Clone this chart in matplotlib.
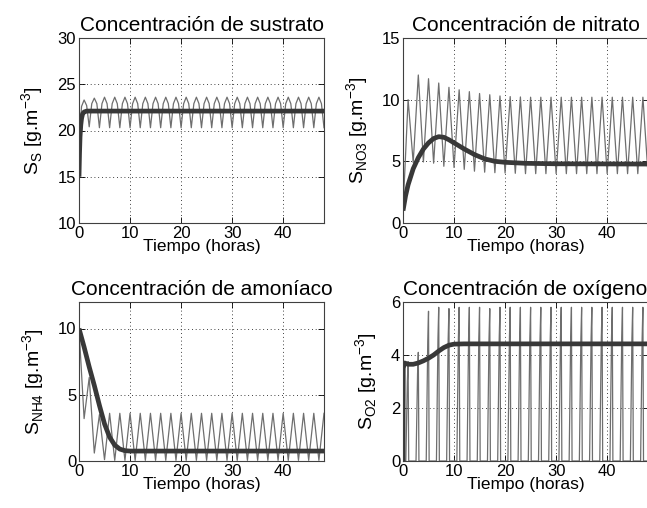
import numpy as np
import matplotlib
matplotlib.use('Agg')
import matplotlib.pyplot as plt

plt.rcParams['font.family'] = ['Liberation Sans', 'DejaVu Sans']
plt.rcParams['mathtext.fontset'] = 'custom'
plt.rcParams['mathtext.rm'] = 'Liberation Sans'
plt.rcParams['font.size'] = 12.5

# ---- data ----
hours = list(range(49))
half_hours = [h / 2 for h in range(1, 97)]

# substrate (sampled every half hour: trough, shoulder, peak, shoulder)
ss_avg_t = [0, 0.1, 0.2, 0.35, 0.5, 0.7, 1.0, 1.5, 2, 48]
ss_avg = [15, 17.5, 19.3, 20.6, 21.3, 21.8, 22.0, 22.1, 22.1, 22.1]
ss_osc_t = [0, 0.3] + half_hours
ss_osc = [15, 21.0,
          22.6, 23.3, 22.7, 20.4, 22.9, 23.5, 22.9, 20.3, 22.9, 23.6, 22.9, 20.3,
          22.9, 23.6, 22.9, 20.3, 22.9, 23.6, 22.9, 20.3, 22.9, 23.6, 22.9, 20.3,
          22.9, 23.6, 22.9, 20.3, 22.9, 23.6, 22.9, 20.3, 22.9, 23.6, 22.9, 20.3,
          22.9, 23.6, 22.9, 20.3, 22.9, 23.6, 22.9, 20.3, 22.9, 23.6, 22.9, 20.3,
          22.9, 23.6, 22.9, 20.3, 22.9, 23.6, 22.9, 20.3, 22.9, 23.6, 22.9, 20.3,
          22.9, 23.6, 22.9, 20.3, 22.9, 23.6, 22.9, 20.3, 22.9, 23.6, 22.9, 20.3,
          22.9, 23.6, 22.9, 20.3, 22.9, 23.6, 22.9, 20.3, 22.9, 23.6, 22.9, 20.3,
          22.9, 23.6, 22.9, 20.3, 22.9, 23.6, 22.9, 20.3, 22.9, 23.6, 22.9, 20.3]

# nitrate
no3_avg_t = [0, 0.5, 1, 2, 3, 4, 5, 6, 7, 8, 9, 10, 12, 14, 16, 18, 20, 24, 30, 48]
no3_avg = [1.0, 2.2, 3.1, 4.4, 5.3, 6.0, 6.5, 6.85, 7.0, 6.95, 6.75, 6.5,
           6.0, 5.55, 5.2, 5.0, 4.92, 4.84, 4.8, 4.78]
no3_osc = [1.0, 10.0, 4.9, 12.0, 4.95, 11.7, 4.85, 11.35, 4.6, 11.0,
           4.5, 10.8, 4.35, 10.65, 4.2, 10.5, 4.12, 10.4, 4.08, 10.3,
           4.05, 10.25, 4.03, 10.22, 4.0, 10.2, 4.0, 10.2, 4.0, 10.2,
           4.0, 10.2, 4.0, 10.2, 4.0, 10.2, 4.0, 10.2, 4.0, 10.2,
           4.0, 10.2, 4.0, 10.2, 4.0, 10.2, 4.0, 10.2, 4.0]

# ammonia
nh4_avg_t = [0, 1, 2, 3, 4, 5, 6, 7, 8, 9, 10, 12, 48]
nh4_avg = [10, 8.6, 7.1, 5.7, 4.2, 2.8, 1.8, 1.2, 0.9, 0.78, 0.75, 0.75, 0.75]
nh4_osc = [10, 3.2, 6.3, 0.6, 3.5, 0.1, 3.6, 0.05, 3.6, 0.05,
           3.6, 0.05, 3.6, 0.05, 3.6, 0.05, 3.6, 0.05, 3.6, 0.05,
           3.6, 0.05, 3.6, 0.05, 3.6, 0.05, 3.6, 0.05, 3.6, 0.05,
           3.6, 0.05, 3.6, 0.05, 3.6, 0.05, 3.6, 0.05, 3.6, 0.05,
           3.6, 0.05, 3.6, 0.05, 3.6, 0.05, 3.6, 0.05, 3.6]

# oxygen
o2_avg_t = [0, 0.05, 0.3, 1, 2, 3, 4, 5, 6, 7, 8, 9, 10, 12, 48]
o2_avg = [0, 3.5, 3.7, 3.65, 3.65, 3.7, 3.78, 3.88, 4.0, 4.15, 4.28,
          4.37, 4.41, 4.42, 4.42]
o2_peak_t = hours[1::2]
o2_peak = [3.75, 4.1, 5.65, 5.8, 5.75, 5.8, 5.8, 5.8, 5.75, 5.8, 5.8, 5.8,
           5.8, 5.8, 5.8, 5.8, 5.8, 5.8, 5.8, 5.8, 5.8, 5.8, 5.8, 5.8]

# spikes of the oxygen trace: quick rise to each peak, sharp drop to zero
o2_x, o2_y = [0], [0]
for tp, pk in zip(o2_peak_t, o2_peak):
    o2_x += [tp - 0.45, tp - 0.15, tp, tp + 0.12]
    o2_y += [0, pk * 0.8, pk, 0]
o2_x.append(48)
o2_y.append(0)

thin = dict(color='#6e6e6e', lw=0.9)
thick = dict(color='#383838', lw=3.4, solid_capstyle='butt')

fig = plt.figure(figsize=(6.47, 5.08), dpi=100)
W = 245 / 647
rects = [[79 / 647, 1 - 223 / 508, W, 185 / 508],
         [403 / 647, 1 - 223 / 508, W, 185 / 508],
         [79 / 647, 1 - 461 / 508, W, 159 / 508],
         [403 / 647, 1 - 461 / 508, W, 159 / 508]]
axs = [fig.add_axes(r) for r in rects]

panels = [
    (ss_osc_t, ss_osc, ss_avg_t, ss_avg, (10, 30), [10, 15, 20, 25, 30],
     'Concentración de sustrato', 'S'),
    (hours, no3_osc, no3_avg_t, no3_avg, (0, 15), [0, 5, 10, 15],
     'Concentración de nitrato', 'NO3'),
    (hours, nh4_osc, nh4_avg_t, nh4_avg, (0, 12), [0, 5, 10],
     'Concentración de amoníaco', 'NH4'),
    (o2_x, o2_y, o2_avg_t, o2_avg, (0, 6), [0, 2, 4, 6],
     'Concentración de oxígeno', 'O2'),
]

for ax, (xt, yt, xa, ya, ylim, yticks, title, sub) in zip(axs, panels):
    ax.plot(xt, yt, **thin)
    ax.plot(xa, ya, **thick)
    ax.set_xlim(0, 48)
    ax.set_ylim(*ylim)
    ax.set_xticks([0, 10, 20, 30, 40])
    ax.set_yticks(yticks)
    ax.grid(True, color='k', linestyle=(0, (1, 3.5)), lw=0.6)
    ax.tick_params(direction='in', length=4, width=0.6, pad=2,
                   labelsize=12, top=True, right=True)
    for s in ax.spines.values():
        s.set_color('#404040')
        s.set_linewidth(0.8)
    ax.set_title(title, pad=5)
    ax.set_xlabel('Tiempo (horas)', labelpad=-1)
    ax.set_ylabel(r'S$_{\mathregular{%s}}$ [g.m$^{\mathregular{-3}}$]' % sub,
                  fontsize=14, labelpad=8)

fig.savefig('out.png', dpi=100)
